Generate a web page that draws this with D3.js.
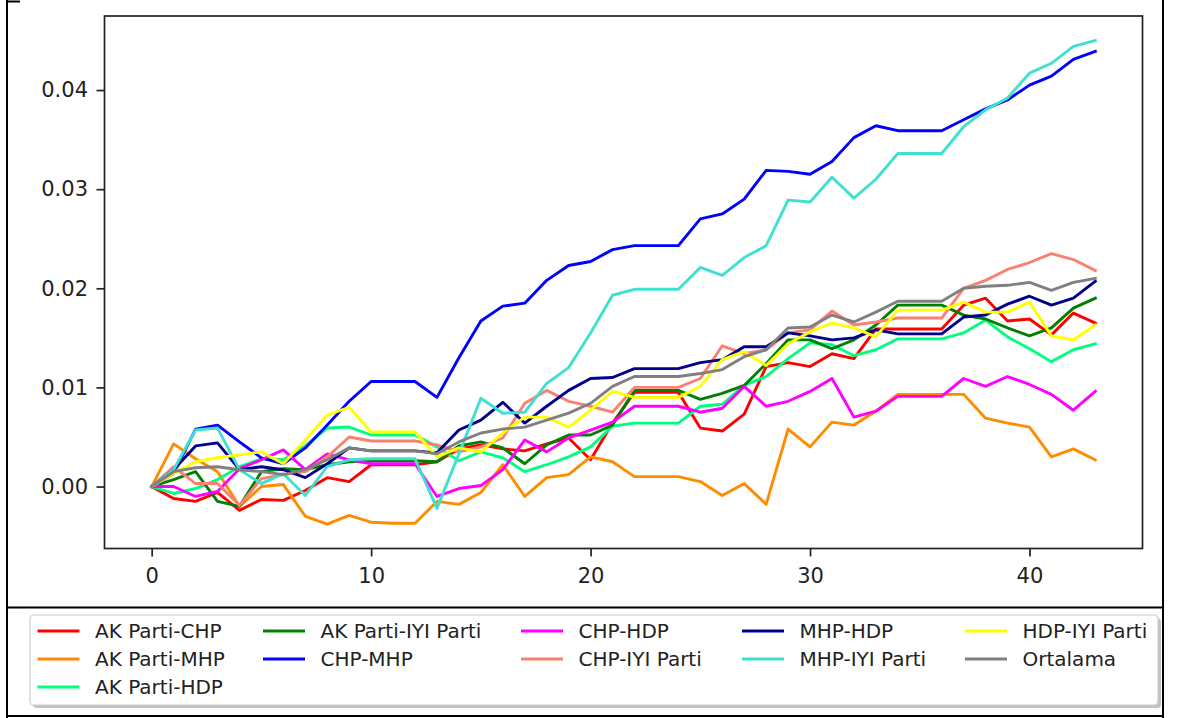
<!DOCTYPE html>
<html><head><meta charset="utf-8">
<script src="https://cdn.jsdelivr.net/npm/d3@7"></script>
<style>body{margin:0;background:#fff}svg{display:block}text{font-family:"DejaVu Sans",sans-serif}</style>
</head><body><svg id="c" width="1177" height="718"></svg>
<script>
const steps = d3.range(0, 44);
const xTicks = [0, 10, 20, 30, 40];
const yTicks = [0.00, 0.01, 0.02, 0.03, 0.04];
const seriesNames = ["AK Parti-CHP","AK Parti-MHP","AK Parti-HDP","AK Parti-IYI Parti","CHP-MHP","CHP-HDP","CHP-IYI Parti","MHP-HDP","MHP-IYI Parti","HDP-IYI Parti","Ortalama"];
const seriesColors = ["#ff0000","#ff8c00","#00ff7f","#008000","#0000ff","#ff00ff","#fa8072","#00008b","#40e0d0","#ffff00","#808080"];

const akChp = [0,-0.0012,-0.0015,-0.0006,-0.0024,-0.0013,-0.0014,-0.0004,0.0009,0.0005,0.0022,0.0022,0.0022,0.0025,0.0038,0.0042,0.0038,0.0036,0.0043,0.0049,0.0027,0.0064,0.0095,0.0095,0.0095,0.0059,0.0056,0.0073,0.0121,0.0125,0.0121,0.0134,0.0129,0.0159,0.0159,0.0159,0.0159,0.0183,0.0190,0.0167,0.0169,0.0153,0.0175,0.0165];
const akMhp = [0,0.0043,0.0028,0.0015,-0.0020,0.0000,0.0002,-0.0030,-0.0038,-0.0029,-0.0036,-0.0037,-0.0037,-0.0015,-0.0018,-0.0006,0.0022,-0.0010,0.0009,0.0012,0.0030,0.0025,0.0010,0.0010,0.0010,0.0005,-0.0009,0.0003,-0.0018,0.0058,0.0040,0.0065,0.0062,0.0076,0.0093,0.0093,0.0093,0.0093,0.0069,0.0064,0.0060,0.0030,0.0038,0.0027];
const akHdp = [0,-0.0007,-0.0002,0.0007,0.0020,0.0028,0.0027,0.0041,0.0059,0.0060,0.0052,0.0052,0.0052,0.0040,0.0026,0.0035,0.0029,0.0015,0.0022,0.0030,0.0040,0.0061,0.0064,0.0064,0.0064,0.0081,0.0083,0.0102,0.0111,0.0129,0.0145,0.0143,0.0132,0.0138,0.0149,0.0149,0.0149,0.0155,0.0168,0.0151,0.0139,0.0126,0.0138,0.0144];
const akIyi = [0,0.0007,0.0015,-0.0015,-0.0020,0.0015,0.0018,0.0017,0.0022,0.0025,0.0026,0.0026,0.0026,0.0025,0.0041,0.0045,0.0039,0.0023,0.0042,0.0052,0.0052,0.0062,0.0097,0.0097,0.0097,0.0088,0.0094,0.0102,0.0124,0.0148,0.0148,0.0139,0.0148,0.0163,0.0183,0.0183,0.0183,0.0173,0.0169,0.0160,0.0152,0.0160,0.0180,0.0190];
const chpMhp = [0,0.0013,0.0058,0.0062,0.0045,0.0029,0.0023,0.0039,0.0062,0.0086,0.0106,0.0106,0.0106,0.0090,0.0130,0.0167,0.0182,0.0185,0.0208,0.0223,0.0227,0.0239,0.0243,0.0243,0.0243,0.0270,0.0275,0.0290,0.0319,0.0318,0.0315,0.0328,0.0352,0.0364,0.0359,0.0359,0.0359,0.0370,0.0381,0.0390,0.0405,0.0414,0.0431,0.0439];
const chpHdp = [0,0.0000,-0.0010,-0.0005,0.0018,0.0027,0.0037,0.0017,0.0033,0.0027,0.0023,0.0023,0.0023,-0.0010,-0.0002,0.0001,0.0017,0.0047,0.0035,0.0049,0.0057,0.0065,0.0081,0.0081,0.0081,0.0075,0.0079,0.0101,0.0081,0.0086,0.0096,0.0109,0.0070,0.0076,0.0091,0.0091,0.0091,0.0109,0.0101,0.0111,0.0103,0.0093,0.0077,0.0096];
const chpIyi = [0,0.0020,0.0003,0.0003,-0.0019,0.0008,0.0012,0.0015,0.0030,0.0050,0.0046,0.0046,0.0046,0.0042,0.0035,0.0040,0.0049,0.0084,0.0097,0.0086,0.0081,0.0075,0.0100,0.0100,0.0100,0.0109,0.0142,0.0134,0.0138,0.0155,0.0158,0.0177,0.0163,0.0166,0.0170,0.0170,0.0170,0.0200,0.0208,0.0219,0.0226,0.0235,0.0229,0.0218];
const mhpHdp = [0,0.0017,0.0041,0.0044,0.0017,0.0020,0.0017,0.0009,0.0023,0.0039,0.0036,0.0036,0.0036,0.0034,0.0057,0.0067,0.0085,0.0064,0.0081,0.0097,0.0109,0.0110,0.0119,0.0119,0.0119,0.0125,0.0128,0.0141,0.0141,0.0155,0.0152,0.0148,0.0150,0.0158,0.0154,0.0154,0.0154,0.0171,0.0173,0.0184,0.0192,0.0183,0.0190,0.0207];
const mhpIyi = [0,0.0017,0.0057,0.0059,0.0017,0.0003,0.0013,-0.0009,0.0020,0.0027,0.0028,0.0028,0.0028,-0.0022,0.0033,0.0089,0.0074,0.0075,0.0104,0.0120,0.0155,0.0193,0.0199,0.0199,0.0199,0.0221,0.0213,0.0231,0.0243,0.0289,0.0287,0.0312,0.0291,0.0310,0.0336,0.0336,0.0336,0.0363,0.0380,0.0392,0.0417,0.0427,0.0444,0.0450];
const hdpIyi = [0,0.0013,0.0025,0.0029,0.0032,0.0035,0.0023,0.0047,0.0072,0.0080,0.0055,0.0055,0.0055,0.0030,0.0039,0.0035,0.0054,0.0070,0.0070,0.0060,0.0077,0.0096,0.0090,0.0090,0.0090,0.0101,0.0128,0.0136,0.0122,0.0144,0.0156,0.0165,0.0160,0.0151,0.0178,0.0178,0.0178,0.0186,0.0176,0.0176,0.0186,0.0152,0.0148,0.0163];
const ortalama = [0,0.0015,0.0019,0.0020,0.0017,0.0015,0.0012,0.0017,0.0027,0.0039,0.0036,0.0036,0.0036,0.0033,0.0045,0.0054,0.0058,0.0060,0.0067,0.0074,0.0084,0.0101,0.0111,0.0111,0.0111,0.0114,0.0118,0.0131,0.0138,0.0160,0.0161,0.0173,0.0166,0.0176,0.0187,0.0187,0.0187,0.0200,0.0202,0.0203,0.0206,0.0198,0.0206,0.0210];
const seriesValues = [akChp, akMhp, akHdp, akIyi, chpMhp, chpHdp, chpIyi, mhpHdp, mhpIyi, hdpIyi, ortalama];

const svg = d3.select("#c");
svg.append("rect").attr("width",1177).attr("height",718).attr("fill","#fff");

const plot = {left:104.5, right:1142.5, top:16, bottom:548.5};
const x = d3.scaleLinear().domain([-2.15, 45.15]).range([plot.left, plot.right]);
const y = d3.scaleLinear().domain([-0.00625, 0.04747]).range([plot.bottom, plot.top]);

const g = svg.append("g");
const line = d3.line().x((d,i)=>x(steps[i])).y(d=>y(d));
seriesValues.forEach((vals, k) => {
  g.append("path").datum(vals).attr("d", line).attr("fill","none")
    .attr("stroke", seriesColors[k]).attr("stroke-width", 2.9)
    .attr("stroke-linejoin","round").attr("stroke-linecap","square");
});

// axes box
svg.append("rect").attr("x",plot.left).attr("y",plot.top)
  .attr("width",plot.right-plot.left).attr("height",plot.bottom-plot.top)
  .attr("fill","none").attr("stroke","#222").attr("stroke-width",1.7);

const xAxis = d3.axisBottom(x).tickValues(xTicks).tickFormat(d3.format("d")).tickSize(8).tickPadding(12);
const gx = svg.append("g").attr("transform",`translate(0,${plot.bottom})`).call(xAxis);
const yAxis = d3.axisLeft(y).tickValues(yTicks).tickFormat(d3.format(".2f")).tickSize(8).tickPadding(8.5);
const gy = svg.append("g").attr("transform",`translate(${plot.left},0)`).call(yAxis);
[gx, gy].forEach(a => {
  a.select(".domain").remove();
  a.selectAll(".tick line").attr("stroke","#222").attr("stroke-width",1.7);
  a.selectAll(".tick text").attr("fill","#222").style("font-size","21px").style("font-family","'DejaVu Sans', sans-serif");
});

// outer frame lines
const frame = svg.append("g").attr("stroke","#000").attr("stroke-width",2);
frame.append("line").attr("x1",7).attr("y1",0).attr("x2",7).attr("y2",718);
frame.append("line").attr("x1",1163).attr("y1",0).attr("x2",1163).attr("y2",718);
frame.append("line").attr("x1",7).attr("y1",607.5).attr("x2",1163).attr("y2",607.5);
frame.append("line").attr("x1",7).attr("y1",716).attr("x2",1163).attr("y2",716);
frame.append("line").attr("x1",7).attr("y1",1.5).attr("x2",20).attr("y2",1.5);

// legend
const lg = svg.append("g");
lg.append("rect").attr("x",33).attr("y",618).attr("width",1128).attr("height",90).attr("rx",4).attr("fill","#999").attr("opacity",0.6);
lg.append("rect").attr("x",30).attr("y",615).attr("width",1128).attr("height",90).attr("rx",4).attr("fill","#fff").attr("stroke","#ccc").attr("stroke-width",1.2);
const colX = [37.5, 263, 521, 742, 965];
const rowY = [631, 659, 687];
const colOf = [0,0,0,1,1,2,2,3,3,4,4];
const rowOf = [0,1,2,0,1,0,1,0,1,0,1];
seriesNames.forEach((name, k) => {
  const cx = colX[colOf[k]], cy = rowY[rowOf[k]];
  lg.append("line").attr("x1",cx).attr("x2",cx+42).attr("y1",cy).attr("y2",cy)
    .attr("stroke",seriesColors[k]).attr("stroke-width",2.9);
  lg.append("text").attr("x",cx+57.5).attr("y",cy).attr("dy","0.35em")
    .style("font-size","20px").attr("fill","#222").text(name);
});
</script></body></html>
